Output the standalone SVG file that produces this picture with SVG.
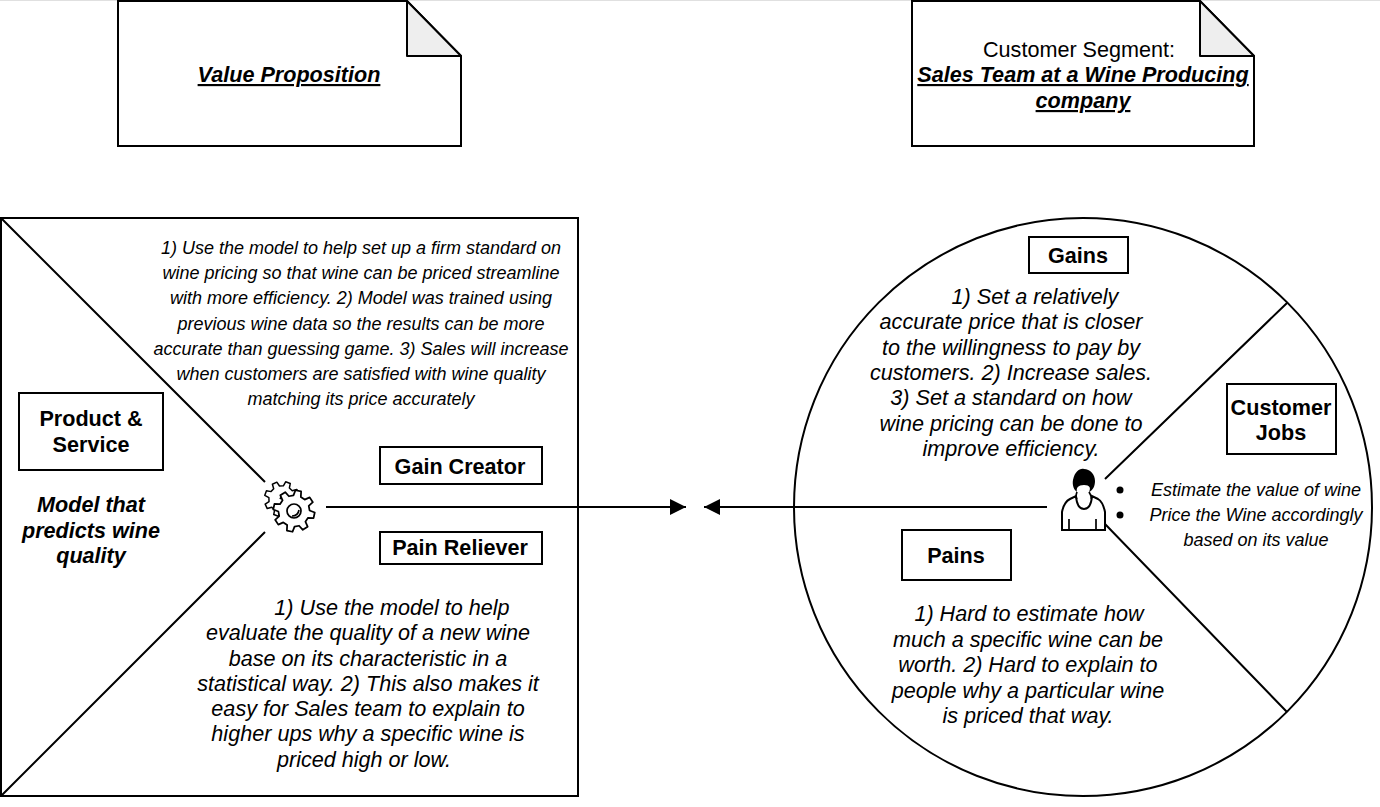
<svg xmlns="http://www.w3.org/2000/svg" width="1380" height="807" viewBox="0 0 1380 807">
<style>
text{font-family:"Liberation Sans",Arial,sans-serif;fill:#000;text-anchor:middle}
.s{fill:none;stroke:#000;stroke-width:2}
.g{fill:#fff;stroke:#000;stroke-width:1.7;stroke-linejoin:round;vector-effect:non-scaling-stroke}
.b{fill:#fff;stroke:#000;stroke-width:2}
.f{fill:#eee;stroke:#000;stroke-width:2;stroke-linejoin:round}
.l{font-size:21.6px;font-weight:bold}
.h{font-size:21.6px;font-weight:bold;font-style:italic;text-decoration:underline}
.i{font-size:21.6px;font-style:italic}
.m{font-size:18px;font-style:italic}
.n{font-size:21.6px}
.t{font-size:21.6px;font-style:italic;font-weight:bold}
</style>
<defs>
<marker id="arr" markerUnits="userSpaceOnUse" markerWidth="18" markerHeight="18" refX="16" refY="8" orient="auto"><path d="M0 0L16 8L0 16z" fill="#000"/></marker>
<path id="gear" d="M14.55 -3.63L19.8 -2.78L19.8 2.78L14.55 3.63L12.86 7.73L15.97 12.04L12.04 15.97L7.73 12.86L3.63 14.55L2.78 19.8L-2.78 19.8L-3.63 14.55L-7.73 12.86L-12.04 15.97L-15.97 12.04L-12.86 7.73L-14.55 3.63L-19.8 2.78L-19.8 -2.78L-14.55 -3.63L-12.86 -7.73L-15.97 -12.04L-12.04 -15.97L-7.73 -12.86L-3.63 -14.55L-2.78 -19.8L2.78 -19.8L3.63 -14.55L7.73 -12.86L12.04 -15.97L15.97 -12.04L12.86 -7.73z"/>
</defs>
<rect x="0" y="0" width="1380" height="1" fill="#e0e0e0"/>
<g id="note-value">
<path class="b" d="M118 1H407L461 56V146H118z"/>
<path class="f" d="M407 1L461 56H407z"/>
<text class="h" x="289" y="82">Value Proposition</text>
</g>
<g id="note-customer">
<path class="b" d="M912 1H1200L1254 56V146H912z"/>
<path class="f" d="M1200 1L1254 56H1200z"/>
<text class="n" x="1079" y="57">Customer Segment:</text>
<text class="h" x="1083" y="82">Sales Team at a Wine Producing</text>
<text class="h" x="1083" y="108">company</text>
</g>
<g id="value-square">
<rect class="s" x="1" y="218" width="577" height="578"/>
<path class="s" d="M1 218L265 482M265 532L1 796"/>
</g>
<g id="customer-circle">
<circle class="s" cx="1083" cy="507" r="289"/>
<path class="s" d="M1105 479L1287 303M1105 524L1287 712"/>
</g>
<g id="product-service">
<rect class="b" x="19" y="393" width="144" height="77"/>
<text class="l" x="91" y="426">Product &amp;</text>
<text class="l" x="91" y="452">Service</text>
<text class="t" x="91" y="512">Model that</text>
<text class="t" x="91" y="538">predicts wine</text>
<text class="t" x="91" y="563">quality</text>
</g>
<g id="gain-creator">
<rect class="b" x="380" y="447" width="162" height="37"/>
<text class="l" x="460" y="474">Gain Creator</text>
<text class="m" x="361" y="254">1) Use the model to help set up a firm standard on</text>
<text class="m" x="361" y="279">wine pricing so that wine can be priced streamline</text>
<text class="m" x="361" y="304">with more efficiency. 2) Model was trained using</text>
<text class="m" x="361" y="330">previous wine data so the results can be more</text>
<text class="m" x="361" y="355">accurate than guessing game. 3) Sales will increase</text>
<text class="m" x="361" y="380">when customers are satisfied with wine quality</text>
<text class="m" x="361" y="405">matching its price accurately</text>
</g>
<g id="pain-reliever">
<rect class="b" x="380" y="532" width="162" height="32"/>
<text class="l" x="460" y="555">Pain Reliever</text>
<text class="i" x="392" y="615">1) Use the model to help</text>
<text class="i" x="368" y="640">evaluate the quality of a new wine</text>
<text class="i" x="368" y="666">base on its characteristic in a</text>
<text class="i" x="368" y="691">statistical way. 2) This also makes it</text>
<text class="i" x="368" y="716">easy for Sales team to explain to</text>
<text class="i" x="368" y="741">higher ups why a specific wine is</text>
<text class="i" x="364" y="767">priced high or low.</text>
</g>
<g id="gains">
<rect class="b" x="1029" y="237" width="99" height="36"/>
<text class="l" x="1078" y="263">Gains</text>
<text class="i" x="1035" y="304">1) Set a relatively</text>
<text class="i" x="1011" y="329">accurate price that is closer</text>
<text class="i" x="1011" y="355">to the willingness to pay by</text>
<text class="i" x="1011" y="380">customers. 2) Increase sales.</text>
<text class="i" x="1011" y="405">3) Set a standard on how</text>
<text class="i" x="1011" y="431">wine pricing can be done to</text>
<text class="i" x="1011" y="456">improve efficiency.</text>
</g>
<g id="customer-jobs">
<rect class="b" x="1227" y="384" width="109" height="70"/>
<text class="l" x="1281" y="415">Customer</text>
<text class="l" x="1281" y="440">Jobs</text>
<circle cx="1120" cy="490" r="3.5"/>
<circle cx="1120" cy="515" r="3.5"/>
<text class="m" x="1256" y="496">Estimate the value of wine</text>
<text class="m" x="1256" y="521">Price the Wine accordingly</text>
<text class="m" x="1256" y="546">based on its value</text>
</g>
<g id="pains">
<rect class="b" x="902" y="530" width="109" height="50"/>
<text class="l" x="956" y="563">Pains</text>
<text class="i" x="1029" y="621">1) Hard to estimate how</text>
<text class="i" x="1028" y="647">much a specific wine can be</text>
<text class="i" x="1028" y="672">worth. 2) Hard to explain to</text>
<text class="i" x="1028" y="698">people why a particular wine</text>
<text class="i" x="1028" y="723">is priced that way.</text>
</g>
<g id="gear-icon">
<use href="#gear" class="g" transform="translate(282 499) rotate(20) scale(.88)"/>
<path class="s" style="stroke-width:1.7" d="M280 499Q283 494 287 496"/>
<use href="#gear" class="g" transform="translate(294 511) rotate(12) scale(1.04)"/>
<circle class="s" cx="294" cy="511" r="7" style="stroke-width:1.7"/>
<path class="s" style="stroke-width:1.7" d="M292 516Q298 516 299 510"/>
</g>
<g id="person-icon">
<path class="b" d="M1062 530V512Q1064 502 1070 499L1076 496Q1077 509 1084 509Q1091 509 1092 496L1098 499Q1103 502 1105 512V530z"/>
<path class="s" style="stroke-width:1.7" d="M1069 519v11M1096 519v11"/>
<path d="M1077 492C1074 490 1072 485 1073 480C1075 471 1080 468 1084 469C1090 469 1095 474 1095 481C1095 486 1093 490 1089 492C1091 488 1090 485 1084 485C1078 485 1076 488 1077 492z" fill="#000"/>
<path class="s" style="stroke-width:1.7" d="M1077 492Q1075 497 1077 499M1089 492Q1092 497 1091 499"/>
</g>
<g id="connectors">
<path class="s" d="M326 507H686" marker-end="url(#arr)"/>
<path class="s" d="M1047 507H704" marker-end="url(#arr)"/>
</g>
</svg>
